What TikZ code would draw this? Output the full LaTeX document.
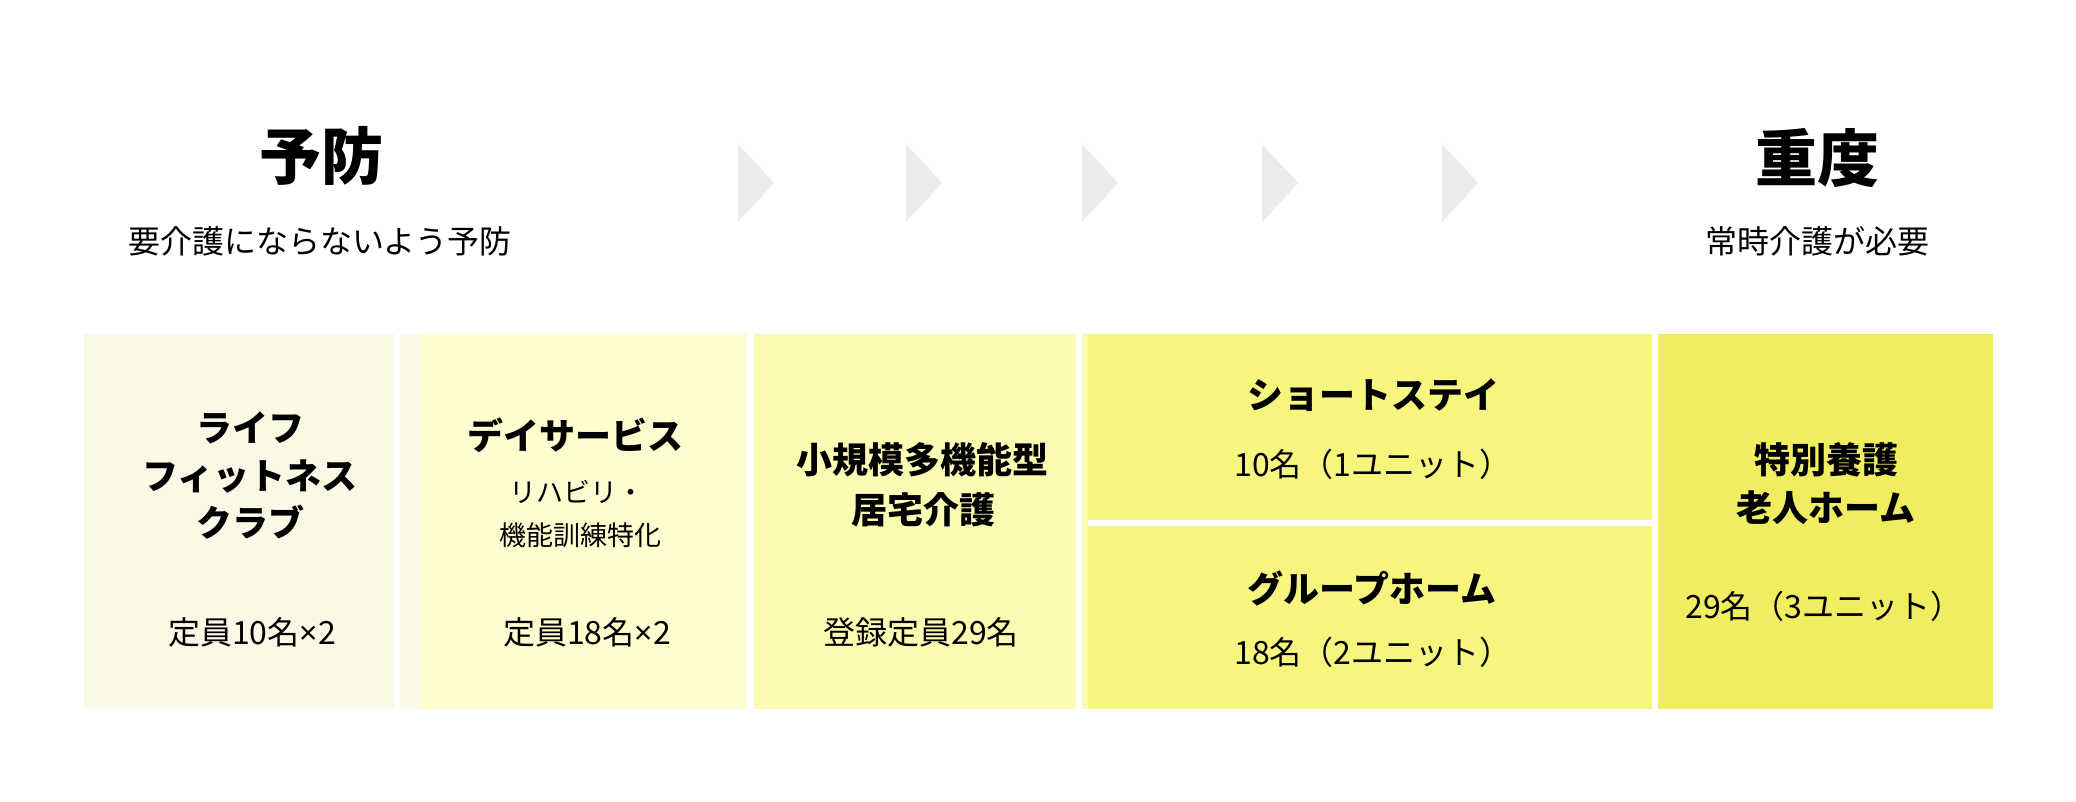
\documentclass[tikz,border=0pt]{standalone}
\usepackage{fontspec}
\setmainfont{Noto Sans CJK JP}
\newfontfamily\latinfont{Noto Sans}
\newcommand{\narrowtimes}{{\latinfont ×}}
\definecolor{cA}{RGB}{250,249,230}
\definecolor{cB}{RGB}{255,253,208}
\definecolor{cC}{RGB}{252,251,178}
\definecolor{cD}{RGB}{246,245,126}
\definecolor{cE}{RGB}{240,238,96}
\definecolor{chev}{RGB}{235,235,235}
\tikzset{
  lbl/.style={inner sep=0pt, anchor=center, text=black},
  bigtitle/.style={lbl, font=\fontsize{31}{36}\selectfont\bfseries},
  sub/.style={lbl, font=\fontsize{16}{20}\selectfont},
  head/.style={lbl, font=\fontsize{18}{22}\selectfont\bfseries},
  small/.style={lbl, font=\fontsize{13.5}{17}\selectfont},
  chevron/.style={fill=chev, draw=none}
}
\begin{document}
\begin{tikzpicture}[x=0.5pt,y=-0.5pt]
\useasboundingbox (0,0) rectangle (2076,802);
\fill[white] (0,0) rectangle (2076,802);
% boxes
\fill[cA] (84,334) rectangle (394,709);
\fill[cA] (400,334) rectangle (420,709);
\fill[cB] (420,334) rectangle (747,709);
\fill[cC] (754,334) rectangle (1076,709);
\fill[cC] (1082,334) rectangle (1088,709);
\fill[cD] (1088,334) rectangle (1652,520);
\fill[cD] (1088,526) rectangle (1652,709);
\fill[cE] (1658,334) rectangle (1993,709);
% chevrons
\foreach \cx in {738,906,1082,1262,1442}{
  \fill[chevron] (\cx,144) -- (\cx+36,183) -- (\cx,222) -- cycle;
}
% headings
\node[bigtitle] (yobo) at (321,156) {予防};
\node[sub] (yobosub) at (320,241) {要介護にならないよう予防};
\node[bigtitle] (judo) at (1817,158) {重度};
\node[sub] (judosub) at (1817,241) {常時介護が必要};
% box 1
\node[head] (a1) at (250,428) {ライフ};
\node[head] (a2) at (250,477) {フィットネス};
\node[head] (a3) at (250,522) {クラブ};
\node[sub] (a4) at (252,632) {定員10名\narrowtimes 2};
% box 2
\node[head] (b1) at (575,435) {デイサービス};
\node[small] (b2) at (577,492) {リハビリ・};
\node[small] (b3) at (580,535) {機能訓練特化};
\node[sub] (b4) at (587,632) {定員18名\narrowtimes 2};
% box 3
\node[head] (c1) at (922,460) {小規模多機能型};
\node[head] (c2) at (923,510) {居宅介護};
\node[sub] (c3) at (921,632) {登録定員29名};
% box 4
\node[head] (d1) at (1373,395) {ショートステイ};
\node[sub] (d2) at (1373,464) {10名（1ユニット）};
\node[head] (d3) at (1372,588) {グループホーム};
\node[sub] (d4) at (1373,652) {18名（2ユニット）};
% box 5
\node[head] (e1) at (1826,460) {特別養護};
\node[head] (e2) at (1826,508) {老人ホーム};
\node[sub] (e3) at (1824,606) {29名（3ユニット）};
\end{tikzpicture}
\end{document}
